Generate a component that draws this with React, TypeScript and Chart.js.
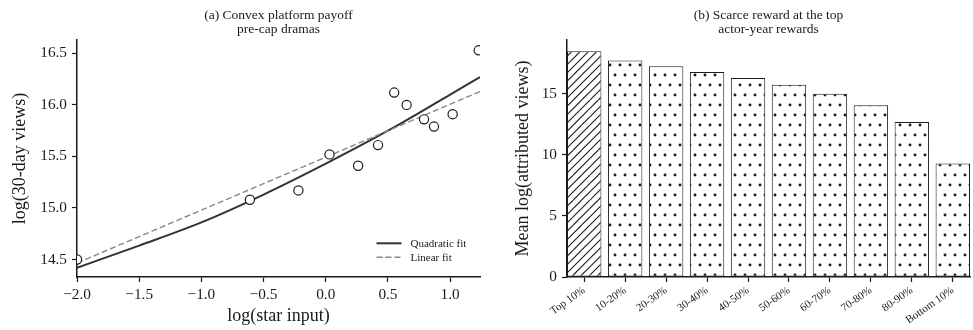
import React, { useEffect, useRef } from "react";
import { Chart, registerables } from "chart.js";

Chart.register(...registerables);

// ---------- Panel (a) data ----------
const titleA = ["(a) Convex platform payoff", "pre-cap dramas"];
const xLabelA = "log(star input)";
const yLabelA = "log(30-day views)";
const scatterX = [-2.0, -0.61, -0.22, 0.03, 0.26, 0.42, 0.55, 0.65, 0.79, 0.87, 1.02, 1.23];
const scatterY = [14.5, 15.08, 15.17, 15.52, 15.41, 15.61, 16.12, 16.0, 15.86, 15.79, 15.91, 16.53];
const quadX = [-2.0, -1.5, -1.0, -0.5, 0.0, 0.5, 1.0, 1.24];
const quadY = [14.42, 14.635, 14.86, 15.13, 15.43, 15.75, 16.1, 16.27];
const linX = [-2.0, 1.24];
const linY = [14.465, 16.13];
const legendLabels = ["Quadratic fit", "Linear fit"];

// ---------- Panel (b) data ----------
const titleB = ["(b) Scarce reward at the top", "actor-year rewards"];
const yLabelB = "Mean log(attributed views)";
const groups = ["Top 10%", "10-20%", "20-30%", "30-40%", "40-50%", "50-60%", "60-70%", "70-80%", "80-90%", "Bottom 10%"];
const means = [18.48, 17.72, 17.25, 16.79, 16.28, 15.73, 15.0, 14.05, 12.69, 9.29];

const FONT = "'Liberation Serif', 'Times New Roman', serif";
const INK = "#1a1a1a";

function makeHatch(): CanvasPattern | string {
  const size = 25;
  const c = document.createElement("canvas");
  c.width = size;
  c.height = size;
  const g = c.getContext("2d");
  if (!g) return "#fff";
  g.fillStyle = "#fff";
  g.fillRect(0, 0, size, size);
  g.strokeStyle = "#1a1a1a";
  g.lineWidth = 1.1;
  const step = size / 3;
  for (let k = -1; k <= 7; k++) {
    const x0 = k * step;
    g.beginPath();
    g.moveTo(x0 - size, size);
    g.lineTo(x0, 0);
    g.stroke();
  }
  return g.createPattern(c, "repeat") || "#fff";
}

function makeDots(): CanvasPattern | string {
  const c = document.createElement("canvas");
  c.width = 10;
  c.height = 20;
  const g = c.getContext("2d");
  if (!g) return "#fff";
  g.fillStyle = "#fff";
  g.fillRect(0, 0, 10, 20);
  g.fillStyle = "#1a1a1a";
  const dots = [
    [0, 5],
    [10, 5],
    [5, 15],
  ];
  for (const [x, y] of dots) {
    g.beginPath();
    g.arc(x, y, 1.45, 0, Math.PI * 2);
    g.fill();
  }
  return g.createPattern(c, "repeat") || "#fff";
}

const legendPlugin = {
  id: "fitLegend",
  afterDraw(chart: any) {
    const { ctx, chartArea } = chart;
    const { right, bottom } = chartArea;
    const ds = chart.data.datasets;
    const rows = [
      { label: ds[1].label, color: ds[1].borderColor, width: ds[1].borderWidth, dash: ds[1].borderDash || [], y: bottom - 33.7 },
      { label: ds[2].label, color: ds[2].borderColor, width: ds[2].borderWidth, dash: ds[2].borderDash || [], y: bottom - 19.7 },
    ];
    ctx.save();
    for (const r of rows) {
      ctx.beginPath();
      ctx.setLineDash(r.dash);
      ctx.strokeStyle = r.color;
      ctx.lineWidth = r.width;
      ctx.moveTo(right - 103.5, r.y);
      ctx.lineTo(right - 78.5, r.y);
      ctx.stroke();
      ctx.setLineDash([]);
      ctx.fillStyle = INK;
      ctx.font = `11px ${FONT}`;
      ctx.textAlign = "left";
      ctx.textBaseline = "middle";
      ctx.fillText(r.label, right - 69.5, r.y + 0.5);
    }
    ctx.restore();
  },
};

const fmt = (v: number) => {
  const s = Math.abs(v).toFixed(1);
  return v < -1e-9 ? "\u2212" + s : s;
};

export default function App() {
  const leftRef = useRef<HTMLCanvasElement | null>(null);
  const rightRef = useRef<HTMLCanvasElement | null>(null);

  useEffect(() => {
    Chart.defaults.font.family = FONT;
    Chart.defaults.color = INK;

    const axisGrid = {
      display: true,
      drawOnChartArea: false,
      drawTicks: true,
      tickLength: 5,
      tickWidth: 1.2,
      tickColor: INK,
    };
    const axisBorder = { display: true, color: INK, width: 1.5 };
    const titleFont = { size: 13.5, family: FONT, weight: "normal", lineHeight: 1.0 };

    const left = new Chart(leftRef.current as HTMLCanvasElement, {
      type: "scatter",
      data: {
        datasets: [
          {
            type: "scatter",
            label: "points",
            data: scatterX.map((x, i) => ({ x, y: scatterY[i] })),
            pointRadius: 4.6,
            pointBackgroundColor: "#ffffff",
            pointBorderColor: INK,
            pointBorderWidth: 1.2,
            order: 0,
          },
          {
            type: "line",
            label: legendLabels[0],
            data: quadX.map((x, i) => ({ x, y: quadY[i] })),
            borderColor: "#333333",
            borderWidth: 2,
            pointRadius: 0,
            cubicInterpolationMode: "monotone",
            fill: false,
            order: 2,
          },
          {
            type: "line",
            label: legendLabels[1],
            data: linX.map((x, i) => ({ x, y: linY[i] })),
            borderColor: "#888888",
            borderWidth: 1.4,
            borderDash: [6, 3],
            pointRadius: 0,
            fill: false,
            order: 1,
          },
        ] as any,
      },
      options: {
        animation: false,
        responsive: false,
        devicePixelRatio: 1,
        layout: { padding: { left: 0, right: 10, top: 0, bottom: 0 } },
        plugins: {
          legend: { display: false },
          tooltip: { enabled: false },
          title: {
            display: true,
            fullSize: false,
            text: titleA,
            color: INK,
            font: titleFont,
            padding: { top: 9, bottom: 4 },
          },
        },
        scales: {
          x: {
            type: "linear",
            min: -2.0,
            max: 1.24,
            grid: axisGrid,
            border: axisBorder,
            ticks: {
              stepSize: 0.5,
              includeBounds: false,
              font: { size: 15.3, family: FONT },
              color: INK,
              padding: 4,
              maxRotation: 0,
              callback: (v: any) => fmt(Number(v)),
            },
            title: {
              display: true,
              text: xLabelA,
              color: INK,
              font: { size: 18, family: FONT },
              padding: { top: 2, bottom: 2.5 },
            },
            afterFit: (s: any) => {
              s.height = 53;
            },
          },
          y: {
            type: "linear",
            min: 14.33,
            max: 16.63,
            grid: axisGrid,
            border: axisBorder,
            ticks: {
              stepSize: 0.5,
              includeBounds: false,
              font: { size: 15.3, family: FONT },
              color: INK,
              padding: 5,
              callback: (v: any) => fmt(Number(v)),
            },
            title: {
              display: true,
              text: yLabelA,
              color: INK,
              font: { size: 18, family: FONT },
              padding: { top: 9, bottom: 2 },
            },
            afterFit: (s: any) => {
              s.width = 77;
            },
          },
        },
      } as any,
      plugins: [legendPlugin],
    });

    const hatch = makeHatch();
    const dots = makeDots();

    const right = new Chart(rightRef.current as HTMLCanvasElement, {
      type: "bar",
      data: {
        datasets: [
          {
            label: yLabelB,
            data: means.map((v, i) => ({ x: i, y: v })),
            backgroundColor: means.map((_, i) => (i === 0 ? hatch : dots)) as any,
            borderColor: INK,
            borderWidth: 1,
            borderSkipped: false,
            categoryPercentage: 1,
            barPercentage: 0.84,
          },
        ],
      },
      options: {
        animation: false,
        responsive: false,
        devicePixelRatio: 1,
        layout: { padding: { left: 0, right: 3, top: 0, bottom: 0 } },
        plugins: {
          legend: { display: false },
          tooltip: { enabled: false },
          title: {
            display: true,
            fullSize: false,
            text: titleB,
            color: INK,
            font: titleFont,
            padding: { top: 9, bottom: 4 },
          },
        },
        scales: {
          x: {
            type: "linear",
            offset: false,
            min: -0.42,
            max: groups.length - 1 + 0.42,
            grid: { ...axisGrid, offset: false },
            border: axisBorder,
            afterBuildTicks: (s: any) => {
              s.ticks = groups.map((_, i) => ({ value: i }));
            },
            ticks: {
              font: { size: 11, family: FONT },
              color: INK,
              padding: 2,
              minRotation: 35,
              maxRotation: 35,
              autoSkip: false,
              callback: (v: any) => groups[Math.round(Number(v))] ?? "",
            },
            afterFit: (s: any) => {
              s.height = 53;
            },
          },
          y: {
            type: "linear",
            min: 0,
            max: 19.4,
            grid: axisGrid,
            border: axisBorder,
            ticks: {
              stepSize: 5,
              includeBounds: false,
              font: { size: 15.3, family: FONT },
              color: INK,
              padding: 5,
            },
            title: {
              display: true,
              text: yLabelB,
              color: INK,
              font: { size: 18, family: FONT },
              padding: { top: 22, bottom: 2 },
            },
            afterFit: (s: any) => {
              s.width = 77;
            },
          },
        },
      } as any,
    });

    return () => {
      left.destroy();
      right.destroy();
    };
  }, []);

  return (
    <div style={{ position: "absolute", left: 0, top: 0, width: 973, height: 330, background: "#fff" }}>
      <canvas
        ref={leftRef}
        width={490}
        height={330}
        style={{ position: "absolute", left: 0, top: 0, width: 490, height: 330 }}
      />
      <canvas
        ref={rightRef}
        width={483}
        height={330}
        style={{ position: "absolute", left: 490, top: 0, width: 483, height: 330 }}
      />
    </div>
  );
}
